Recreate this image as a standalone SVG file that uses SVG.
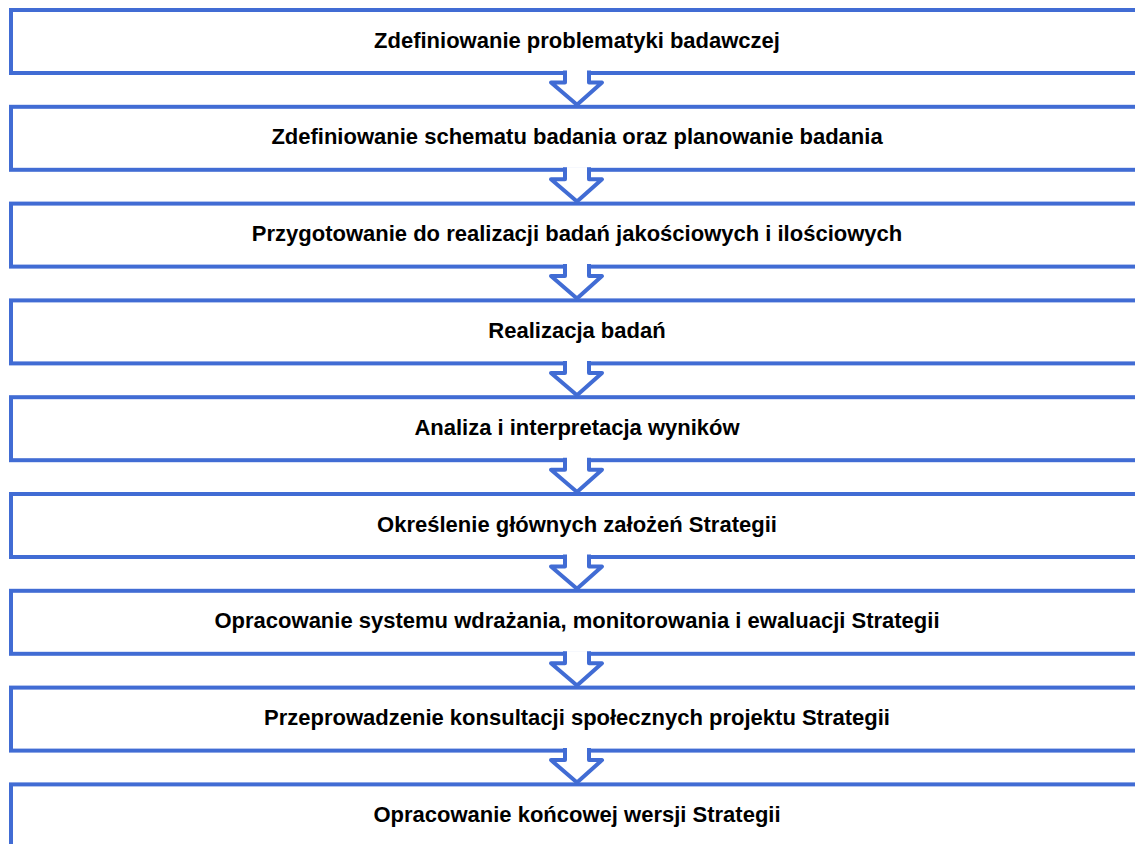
<svg xmlns="http://www.w3.org/2000/svg" width="1135" height="844" viewBox="0 0 1135 844">
<style>
.box{fill:#fff;stroke:#416CD4;stroke-width:4}
.arr{fill:#fff;stroke:#416CD4;stroke-width:4;stroke-linejoin:round}
.lbl{font-family:"Liberation Sans",Arial,sans-serif;font-weight:bold;font-size:22px;fill:#000;text-anchor:middle}
</style>
<rect width="1135" height="844" fill="#fff"/>
<g id="n1"><rect class="box" x="11" y="10" width="1200" height="63"/><text class="lbl" x="577" y="47.5">Zdefiniowanie problematyki badawczej</text></g>
<g id="n2"><rect class="box" x="11" y="106.8" width="1200" height="63"/><text class="lbl" x="577" y="144.3">Zdefiniowanie schematu badania oraz planowanie badania</text></g>
<g id="n3"><rect class="box" x="11" y="203.6" width="1200" height="63"/><text class="lbl" x="577" y="241.1">Przygotowanie do realizacji badań jakościowych i ilościowych</text></g>
<g id="n4"><rect class="box" x="11" y="300.4" width="1200" height="63"/><text class="lbl" x="577" y="337.9">Realizacja badań</text></g>
<g id="n5"><rect class="box" x="11" y="397.2" width="1200" height="63"/><text class="lbl" x="577" y="434.7">Analiza i interpretacja wyników</text></g>
<g id="n6"><rect class="box" x="11" y="494" width="1200" height="63"/><text class="lbl" x="577" y="531.5">Określenie głównych założeń Strategii</text></g>
<g id="n7"><rect class="box" x="11" y="590.8" width="1200" height="63"/><text class="lbl" x="577" y="628.3">Opracowanie systemu wdrażania, monitorowania i ewaluacji Strategii</text></g>
<g id="n8"><rect class="box" x="11" y="687.6" width="1200" height="63"/><text class="lbl" x="577" y="725.1">Przeprowadzenie konsultacji społecznych projektu Strategii</text></g>
<g id="n9"><rect class="box" x="11" y="784.4" width="1200" height="63"/><text class="lbl" x="577" y="821.9">Opracowanie końcowej wersji Strategii</text></g>
<g id="connectors">
<path class="arr" d="M565 70.5 V82.5 H551 L577 104.8 L602 82.5 H589 V70.5"/>
<path class="arr" transform="translate(0,96.8)" d="M565 70.5 V82.5 H551 L577 104.8 L602 82.5 H589 V70.5"/>
<path class="arr" transform="translate(0,193.6)" d="M565 70.5 V82.5 H551 L577 104.8 L602 82.5 H589 V70.5"/>
<path class="arr" transform="translate(0,290.4)" d="M565 70.5 V82.5 H551 L577 104.8 L602 82.5 H589 V70.5"/>
<path class="arr" transform="translate(0,387.2)" d="M565 70.5 V82.5 H551 L577 104.8 L602 82.5 H589 V70.5"/>
<path class="arr" transform="translate(0,484)" d="M565 70.5 V82.5 H551 L577 104.8 L602 82.5 H589 V70.5"/>
<path class="arr" transform="translate(0,580.8)" d="M565 70.5 V82.5 H551 L577 104.8 L602 82.5 H589 V70.5"/>
<path class="arr" transform="translate(0,677.6)" d="M565 70.5 V82.5 H551 L577 104.8 L602 82.5 H589 V70.5"/>
</g>
</svg>
